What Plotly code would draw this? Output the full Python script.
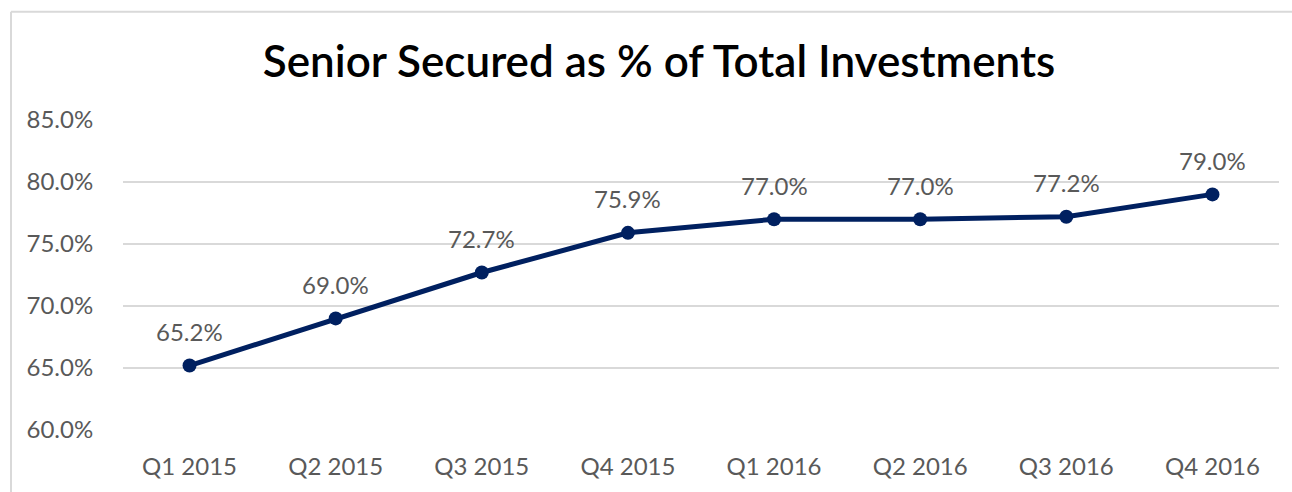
import plotly.graph_objects as go

categories = ["Q1 2015", "Q2 2015", "Q3 2015", "Q4 2015", "Q1 2016", "Q2 2016", "Q3 2016", "Q4 2016"]
values = [0.652, 0.690, 0.727, 0.759, 0.770, 0.770, 0.772, 0.790]
label_texts = ["65.2%", "69.0%", "72.7%", "75.9%", "77.0%", "77.0%", "77.2%", "79.0%"]
y_ticks = [0.60, 0.65, 0.70, 0.75, 0.80, 0.85]
title_text = "Senior Secured as % of Total Investments"

W, H = 1292, 492
plot_left, plot_right, plot_top, plot_bottom = 123, 1279, 119.5, 430
L = plot_left
R = W - plot_right
T = plot_top
B = H - plot_bottom

TEXT_FONT = dict(family="Lato", size=24, color="#595959")

fig = go.Figure()
fig.add_trace(go.Scatter(
    x=categories, y=values, mode="lines+markers",
    line=dict(color="#002060", width=5),
    marker=dict(color="#002060", size=14),
    hoverinfo="skip", showlegend=False,
))

for c, v, t in zip(categories, values, label_texts):
    fig.add_annotation(x=c, y=v, text=t, showarrow=False, yanchor="middle",
                       yshift=34, font=TEXT_FONT)

pw = W - L - R
ph = H - T - B
bx = (11 - plot_left) / pw
by = (plot_bottom - 11) / ph
fig.add_shape(type="line", xref="paper", yref="paper",
              x0=bx, x1=bx, y0=-1.0, y1=by,
              line=dict(color="#d9d9d9", width=2), layer="below")
fig.add_shape(type="line", xref="paper", yref="paper",
              x0=bx, x1=1.5, y0=by, y1=by,
              line=dict(color="#d9d9d9", width=2), layer="below")

fig.update_layout(
    width=W, height=H,
    margin=dict(l=L, r=R, t=T, b=B, autoexpand=False),
    paper_bgcolor="white", plot_bgcolor="white",
    title=dict(text=title_text, xref="container", yref="container",
               x=659 / W, y=1 - 62 / H, xanchor="center", yanchor="middle",
               font=dict(family="Lato", size=44, color="black", weight=600)),
    xaxis=dict(showgrid=False, showline=False, zeroline=False,
               tickfont=TEXT_FONT,
               ticks="outside", ticklen=0, ticklabelstandoff=15),
    yaxis=dict(range=[0.60, 0.85], tickvals=y_ticks, tickformat=".1%",
               showgrid=True, gridcolor="#d9d9d9", gridwidth=1.5,
               zeroline=False, showline=False,
               tickfont=TEXT_FONT,
               ticks="outside", ticklen=0, ticklabelstandoff=24),
)

fig.write_html(
    "out.html",
    config={"displayModeBar": False},
    post_script="document.body.style.margin='0';document.body.style.overflow='hidden';",
)
